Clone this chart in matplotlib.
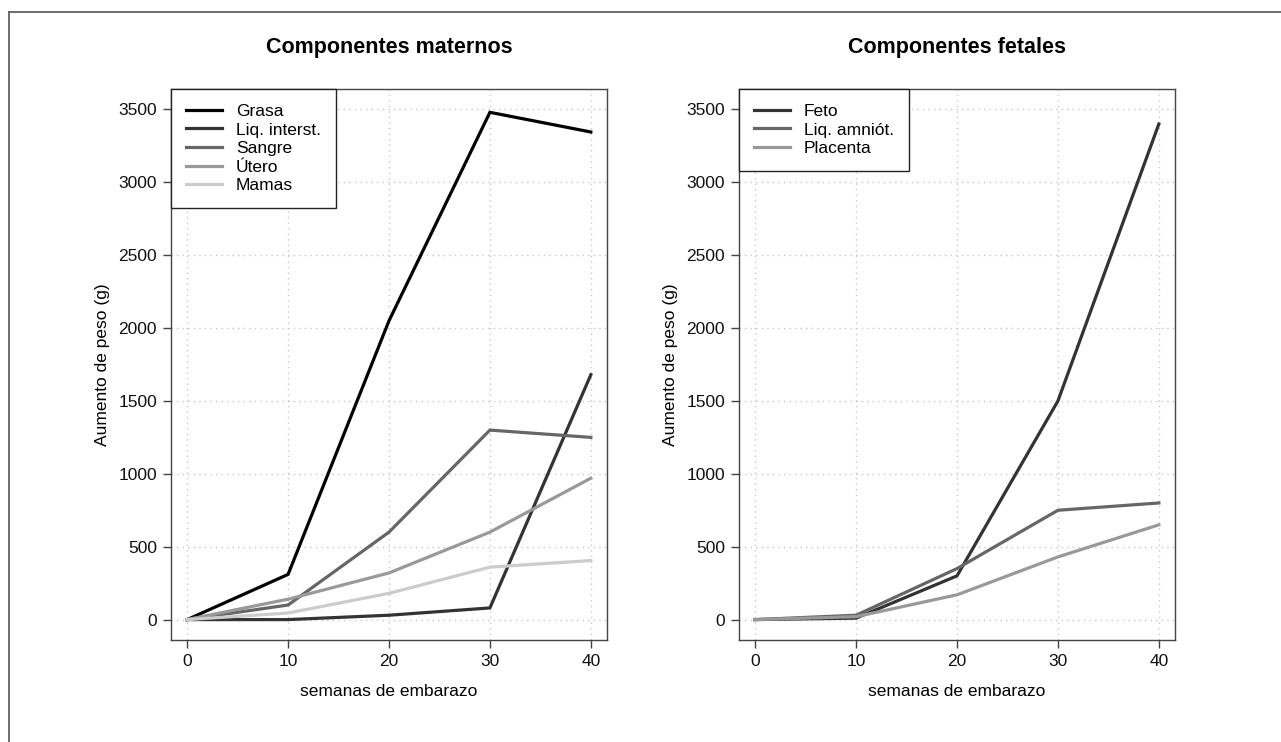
import matplotlib
matplotlib.use("Agg")
import matplotlib.pyplot as plt
from matplotlib.lines import Line2D

plt.rcParams['font.family'] = ['Liberation Sans', 'DejaVu Sans']

semanas = [0, 10, 20, 30, 40]

maternos_labels = ["Grasa", "Liq. interst.", "Sangre", "Útero", "Mamas"]
grasa = [0, 310, 2050, 3480, 3345]
liq_interst = [0, 0, 30, 80, 1680]
sangre = [0, 100, 600, 1300, 1250]
utero = [0, 140, 320, 600, 970]
mamas = [0, 45, 180, 360, 405]
maternos = [grasa, liq_interst, sangre, utero, mamas]
maternos_colors = ["#000000", "#333333", "#666666", "#999999", "#cccccc"]

fetales_labels = ["Feto", "Liq. amniót.", "Placenta"]
feto = [0, 10, 300, 1500, 3400]
liq_amniot = [0, 30, 350, 750, 800]
placenta = [0, 20, 170, 430, 650]
fetales = [feto, liq_amniot, placenta]
fetales_colors = ["#333333", "#666666", "#999999"]

xticks = [0, 10, 20, 30, 40]
yticks = [0, 500, 1000, 1500, 2000, 2500, 3000, 3500]

W, H = 1281, 742
fig = plt.figure(figsize=(W / 100, H / 100), dpi=100)

def px_axes(l, t, r, b):
    return fig.add_axes([l / W, 1 - b / H, (r - l) / W, (b - t) / H])

ax1 = px_axes(171, 89, 607, 640)
ax2 = px_axes(739, 89, 1175, 640)

FS = 12.5

def style(ax, title, series, labels, colors):
    for s, lab, c in zip(series, labels, colors):
        ax.plot(semanas, s, color=c, lw=2.3, label=lab, solid_joinstyle='miter')
    ax.set_xlim(-1.6, 41.6)
    ax.set_ylim(-140, 3640)
    ax.set_xticks(xticks)
    ax.set_yticks(yticks)
    ax.grid(True, color="#c8c8c8", linestyle=(0, (1, 3)), lw=1.0)
    ax.set_axisbelow(True)
    for sp in ax.spines.values():
        sp.set_color("#444444")
        sp.set_linewidth(1.0)
    ax.tick_params(direction='out', length=6, width=1.0, color="#444444",
                   labelsize=FS, labelcolor="#111111", pad=4)
    ax.set_title(title, fontsize=15.5, fontweight='bold', pad=26)
    ax.set_xlabel("semanas de embarazo", fontsize=FS, labelpad=11)
    ax.set_ylabel("Aumento de peso (g)", fontsize=FS, labelpad=6)
    leg = ax.legend(loc='upper left', bbox_to_anchor=(0, 1), borderaxespad=0,
                    fancybox=False, edgecolor="#222222", framealpha=1,
                    fontsize=FS, handlelength=2.1, handletextpad=0.8,
                    labelspacing=0.2, borderpad=0.85)
    leg.get_frame().set_linewidth(1.0)

style(ax1, "Componentes maternos", maternos, maternos_labels, maternos_colors)
style(ax2, "Componentes fetales", fetales, fetales_labels, fetales_colors)

# partial outer frame (top and left)
fig.add_artist(Line2D([8.5 / W, 8.5 / W], [0, 1 - 11.5 / H], transform=fig.transFigure,
                      color="#555555", lw=1.2))
fig.add_artist(Line2D([8.5 / W, 1], [1 - 11.5 / H, 1 - 11.5 / H], transform=fig.transFigure,
                      color="#555555", lw=1.2))

fig.savefig("out.png", dpi=100)
